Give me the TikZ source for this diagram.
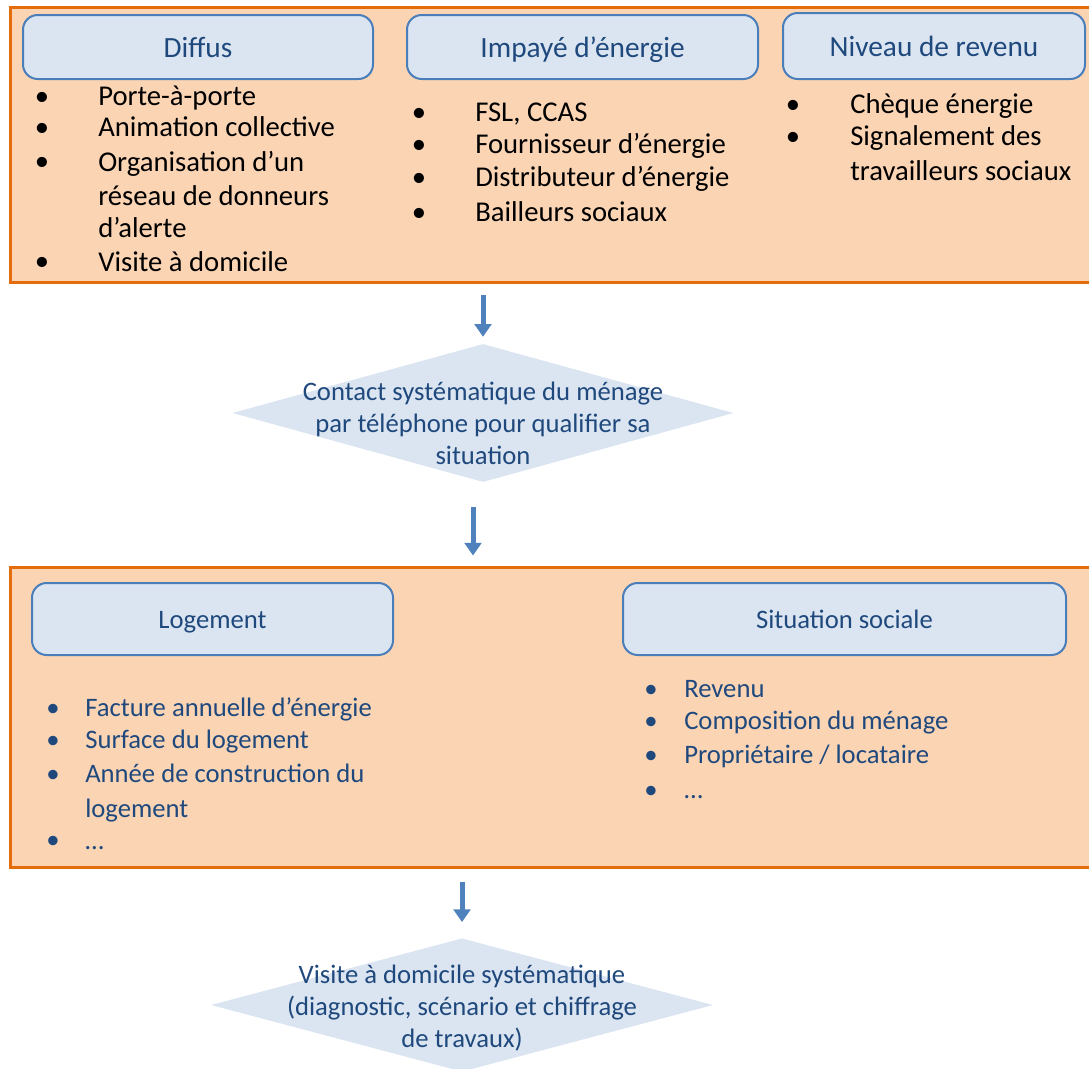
\documentclass[tikz,border=0pt]{standalone}
\usepackage{fontspec}
\setmainfont{Carlito}
\usetikzlibrary{arrows.meta,shapes.geometric}
\definecolor{orangeb}{HTML}{E46C0A}
\definecolor{orangef}{HTML}{FBD4B4}
\definecolor{blueb}{HTML}{4A7EBB}
\definecolor{bluef}{HTML}{DBE5F1}
\definecolor{bluet}{HTML}{1F497D}
\definecolor{arrowc}{HTML}{4F81BD}
\begin{document}
\begin{tikzpicture}[x=0.75pt,y=-0.75pt,
  panel/.style={draw=orangeb, line width=2.25pt, fill=orangef, rectangle, inner sep=0},
  head/.style={draw=blueb, line width=1.5pt, fill=bluef, rounded corners=11pt, text=bluet, inner sep=0, text depth=0pt},
  headA/.style={head, text height=15pt, font=\fontsize{22}{26}\selectfont},
  headB/.style={head, text height=13.6pt, font=\fontsize{20}{24}\selectfont},
  diam/.style={diamond, fill=bluef, draw=none, inner sep=0},
  dtext/.style={align=center, text=bluet, font=\fontsize{20}{24}\selectfont, inner sep=0},
  itemA/.style={anchor=mid west, inner sep=0, yshift=-4pt, font=\fontsize{21.5}{25}\selectfont},
  bulA/.style={anchor=mid, inner sep=0, yshift=-4pt, font=\fontsize{21.5}{25}\selectfont},
  itemB/.style={anchor=mid west, inner sep=0, yshift=-4.5pt, text=bluet, font=\fontsize{20}{24}\selectfont},
  bulB/.style={anchor=mid, inner sep=0, yshift=-4.5pt, text=bluet, font=\fontsize{20}{24}\selectfont},
  arr/.style={draw=arrowc, line width=3.75pt, -{Triangle[width=12.5pt 0 0,length=9.5pt 0 0]}}
]
\useasboundingbox (0,0) rectangle (1089,1068);
\clip (0,0) rectangle (1089,1068);

% panels
\node[panel, minimum width=817.5pt, minimum height=206.25pt] (top) at (555,144.5) {};
\node[panel, minimum width=817.5pt, minimum height=225pt] (bot) at (555,717) {};

% top headings
\node[headA, minimum width=262.5pt, minimum height=48pt] (h1) at (198,47) {Diffus};
\node[headA, minimum width=263.25pt, minimum height=48pt] (h2) at (582.5,47) {Impayé d’énergie};
\node[headA, minimum width=226.5pt, minimum height=49.5pt] (h3) at (934,46) {Niveau de revenu};

% Diffus list
\node[bulA] (b11) at (42,97) {•};
\node[bulA] (b12) at (42,128) {•};
\node[bulA] (b13) at (42,162) {•};
\node[bulA] (b14) at (42,262) {•};
\node[itemA] (l11) at (98,97) {Porte-à-porte};
\node[itemA] (l12) at (98,128) {Animation collective};
\node[itemA] (l13) at (98,163) {Organisation d’un};
\node[itemA] (l14) at (98,197) {réseau de donneurs};
\node[itemA] (l15) at (98,229) {d’alerte};
\node[itemA] (l16) at (98,263) {Visite à domicile};

% Impaye list
\node[bulA] (b21) at (419,113) {•};
\node[bulA] (b22) at (419,145) {•};
\node[bulA] (b23) at (419,178) {•};
\node[bulA] (b24) at (419,213) {•};
\node[itemA] (l21) at (475,113) {FSL, CCAS};
\node[itemA] (l22) at (475,145) {Fournisseur d’énergie};
\node[itemA] (l23) at (475,178) {Distributeur d’énergie};
\node[itemA] (l24) at (475,213) {Bailleurs sociaux};

% Niveau list
\node[bulA] (b31) at (793,105) {•};
\node[bulA] (b32) at (793,137) {•};
\node[itemA] (l31) at (850,105) {Chèque énergie};
\node[itemA] (l32) at (850,137) {Signalement des};
\node[itemA] (l33) at (850,172) {travailleurs sociaux};

% diamond 1
\node[diam, minimum width=375.75pt, minimum height=103.5pt] (d1) at (483,413) {};
\node[dtext] (t1) at (483,423) {Contact systématique du ménage\\par téléphone pour qualifier sa\\situation};

% bottom headings
\node[headB, minimum width=270.75pt, minimum height=54pt] (h4) at (212.5,619) {Logement};
\node[headB, minimum width=332.25pt, minimum height=54pt] (h5) at (844.5,619) {Situation sociale};

% Logement list
\node[bulB] (b41) at (53,707) {•};
\node[bulB] (b42) at (53,739) {•};
\node[bulB] (b43) at (53,773) {•};
\node[bulB] (b44) at (53,839) {•};
\node[itemB] (l41) at (85,707) {Facture annuelle d’énergie};
\node[itemB] (l42) at (85,739) {Surface du logement};
\node[itemB] (l43) at (85,773) {Année de construction du};
\node[itemB] (l44) at (85,808) {logement};
\node[itemB] (l45) at (85,840) {…};

% Situation list
\node[bulB] (b51) at (651,688) {•};
\node[bulB] (b52) at (651,720) {•};
\node[bulB] (b53) at (651,754) {•};
\node[bulB] (b54) at (651,789) {•};
\node[itemB] (l51) at (684,688) {Revenu};
\node[itemB] (l52) at (684,720) {Composition du ménage};
\node[itemB] (l53) at (684,754) {Propriétaire / locataire};
\node[itemB] (l54) at (684,789) {…};

% diamond 2
\node[diam, minimum width=376.5pt, minimum height=100pt] (d2) at (462,1005) {};
\node[dtext] (t2) at (462,1008) {Visite à domicile systématique\\(diagnostic, scénario et chiffrage\\de travaux)};

% arrows
\draw[arr, shorten <=8.25pt, shorten >=5.25pt] (top.south -| d1.north) -- (d1.north);
\draw[arr, shorten <=18.75pt, shorten >=7.5pt] ([xshift=-7.5pt]d1.south) -- ([xshift=-7.5pt]d1.south |- bot.north);
\draw[arr, shorten <=9.75pt, shorten >=12pt] (bot.south -| d2.north) -- (d2.north);
\end{tikzpicture}
\end{document}
